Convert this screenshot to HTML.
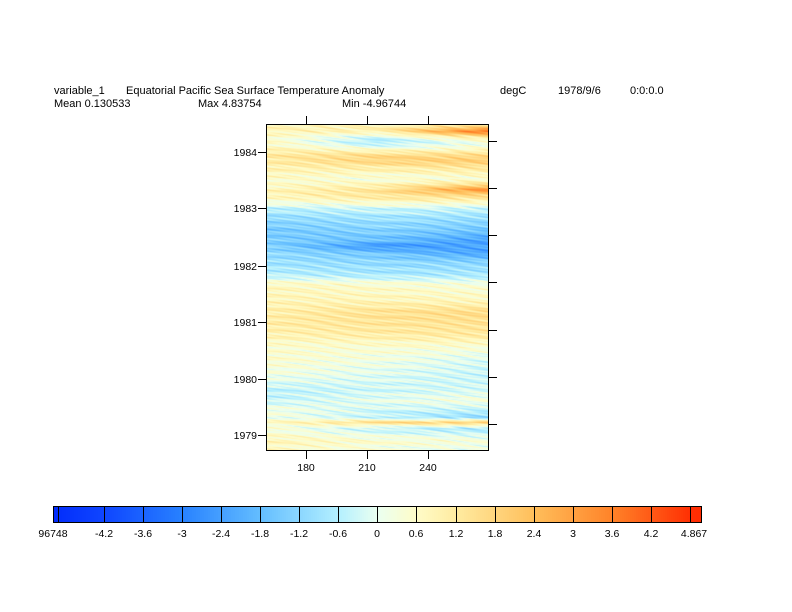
<!DOCTYPE html>
<html><head><meta charset="utf-8"><style>
body{margin:0;background:#fff;width:792px;height:612px;overflow:hidden;position:relative;font-family:"Liberation Sans",sans-serif;font-size:11px;color:#000}
.t{position:absolute;white-space:nowrap;line-height:11px}
canvas{position:absolute;left:266px;top:124px}
svg{position:absolute;left:0;top:0}
</style></head><body>
<div class="t" style="left:54px;top:86px">variable_1</div>
<div class="t" style="left:126px;top:86px">Equatorial Pacific Sea Surface Temperature Anomaly</div>
<div class="t" style="left:500px;top:86px">degC</div>
<div class="t" style="left:558px;top:86px">1978/9/6</div>
<div class="t" style="left:630px;top:86px">0:0:0.0</div>
<div class="t" style="left:54px;top:99px">Mean 0.130533</div>
<div class="t" style="left:198px;top:99px">Max 4.83754</div>
<div class="t" style="left:342px;top:99px">Min -4.96744</div>
<canvas id="c" width="223" height="327"></canvas>
<svg width="792" height="612" id="s">
<rect x="266.5" y="124.5" width="222" height="326" fill="none" stroke="#000"/>
<g stroke="#000">
<line x1="306.5" y1="116" x2="306.5" y2="124"/><line x1="367.5" y1="116" x2="367.5" y2="124"/><line x1="428.5" y1="116" x2="428.5" y2="124"/>
<line x1="306.5" y1="451" x2="306.5" y2="459"/><line x1="367.5" y1="451" x2="367.5" y2="459"/><line x1="428.5" y1="451" x2="428.5" y2="459"/>
<line x1="489" y1="141.5" x2="497" y2="141.5"/><line x1="489" y1="188.5" x2="497" y2="188.5"/><line x1="489" y1="235.5" x2="497" y2="235.5"/><line x1="489" y1="282.5" x2="497" y2="282.5"/><line x1="489" y1="330.5" x2="497" y2="330.5"/><line x1="489" y1="377.5" x2="497" y2="377.5"/><line x1="489" y1="424.5" x2="497" y2="424.5"/>
<line x1="258" y1="152.5" x2="266" y2="152.5"/><line x1="258" y1="208.5" x2="266" y2="208.5"/><line x1="258" y1="266.5" x2="266" y2="266.5"/><line x1="258" y1="322.5" x2="266" y2="322.5"/><line x1="258" y1="379.5" x2="266" y2="379.5"/><line x1="258" y1="435.5" x2="266" y2="435.5"/>
</g>
<g font-family="Liberation Sans" font-size="10.5" text-anchor="end">
<text x="257" y="156">1984</text><text x="257" y="212">1983</text><text x="257" y="270">1982</text><text x="257" y="326">1981</text><text x="257" y="383">1980</text><text x="257" y="439">1979</text>
</g>
<g font-family="Liberation Sans" font-size="10.5" text-anchor="middle">
<text x="306" y="471">180</text><text x="367" y="471">210</text><text x="428" y="471">240</text>
</g>
<g id="cb"></g>
</svg>
<script>
var stops=[[-5,[0,40,250]],[-4.2,[15,70,255]],[-3,[40,130,255]],[-1.8,[100,190,255]],[-0.6,[180,240,255]],[0,[235,255,240]],[0.6,[255,252,200]],[1.2,[255,235,160]],[2.4,[255,190,90]],[3.6,[255,130,40]],[4.9,[255,40,0]]];
function col(v){if(v<=stops[0][0])return stops[0][1];for(var i=1;i<stops.length;i++){if(v<=stops[i][0]){var a=stops[i-1],b=stops[i],t=(v-a[0])/(b[0]-a[0]);return [0,1,2].map(k=>Math.round(a[1][k]+t*(b[1][k]-a[1][k])));}}return stops[stops.length-1][1];}
var rows=[[124,.8,.8,1],[131,.8,1,4],[136,.6,-.2,1.5],[142,.6,-.8,.2],[148,.8,.3,.5],[154,1.2,1.5,1.5],[160,1.1,1.8,2],[168,.9,1,1.2],[178,.6,.3,.4],[184,.5,.8,1.5],[189,.8,1.3,3.4],[195,.8,1.3,1.7],[202,.3,.6,.6],[208,-.5,-.3,-.4],[218,-1.1,-.9,-1],[230,-1.5,-1.3,-1.6],[240,-1.4,-1.7,-2.4],[246,-1.3,-2.6,-2.2],[252,-1.1,-1.6,-2.4],[262,-.9,-1.1,-1.2],[275,-.5,-.7,-.7],[284,.7,.5,.3],[300,.8,.8,.7],[312,1,1.4,1.6],[322,1.1,1.3,1.4],[334,.9,1.1,1.2],[345,.5,.5,.5],[360,.5,.2,-.2],[375,.2,-.1,-.4],[390,-.5,-.3,-.2],[400,-.4,0,.3],[410,.3,-.3,-.5],[417,.2,-.5,-1.2],[422,.6,1.6,2],[428,.3,-.5,-.8],[440,.8,.5,.3],[451,.6,.2,0]];
function base(y,x){for(var i=1;i<rows.length;i++){if(y<=rows[i][0]){var a=rows[i-1],b=rows[i],t=(y-a[0])/(b[0]-a[0]||1);var f=x/222;var la=f<.5?a[1]+(a[2]-a[1])*f*2:a[2]+(a[3]-a[2])*(f-.5)*2;var lb=f<.5?b[1]+(b[2]-b[1])*f*2:b[2]+(b[3]-b[2])*(f-.5)*2;return la+(lb-la)*t;}}return 0;}
var c=document.getElementById('c').getContext('2d'),im=c.createImageData(223,327),d=im.data;
for(var j=0;j<327;j++)for(var i=0;i<223;i++){var y=124+j,yy=y-i*0.12;var v=base(y,i)+0.3*Math.sin(yy*0.9+Math.sin(i*0.05)*2)+0.2*Math.sin(yy*2.3+i*0.03)+0.15*Math.sin(yy*1.7-i*0.11);var k=col(v),p=(j*223+i)*4;d[p]=k[0];d[p+1]=k[1];d[p+2]=k[2];d[p+3]=255;}
c.putImageData(im,0,0);
var b=[53,58,104,143,182,221,260,299,338,377,416,456,495,534,573,612,651,690,701],vals=[-4.97,-4.8,-4.2,-3.6,-3,-2.4,-1.8,-1.2,-0.6,0,0.6,1.2,1.8,2.4,3,3.6,4.2,4.8,4.84];
var g='';
for(var i=0;i<b.length-1;i++){for(var x=b[i];x<b[i+1];x+=2){var v=vals[i]+(vals[i+1]-vals[i])*(x-b[i])/(b[i+1]-b[i]);var k=col(v);g+='<rect x="'+x+'" y="506" width="2" height="16" fill="rgb('+k+')"/>';}}
for(var i=0;i<b.length;i++)g+='<line x1="'+(b[i]+.5)+'" y1="506" x2="'+(b[i]+.5)+'" y2="522" stroke="#000"/>';
g+='<rect x="53.5" y="506.5" width="648" height="16" fill="none" stroke="#000"/>';
var labs=[[-4.2,104],[-3.6,143],[-3,182],[-2.4,221],[-1.8,260],[-1.2,299],[-0.6,338],[0,377],[0.6,416],[1.2,456],[1.8,495],[2.4,534],[3,573],[3.6,612],[4.2,651]];
labs.forEach(l=>g+='<text x="'+l[1]+'" y="537" font-family="Liberation Sans" font-size="10.5" text-anchor="middle">'+l[0]+'</text>');
g+='<text x="53" y="537" font-family="Liberation Sans" font-size="10.5" text-anchor="middle">96748</text><text x="694" y="537" font-family="Liberation Sans" font-size="10.5" text-anchor="middle">4.867</text>';
document.getElementById('cb').innerHTML=g;
</script>
</body></html>
